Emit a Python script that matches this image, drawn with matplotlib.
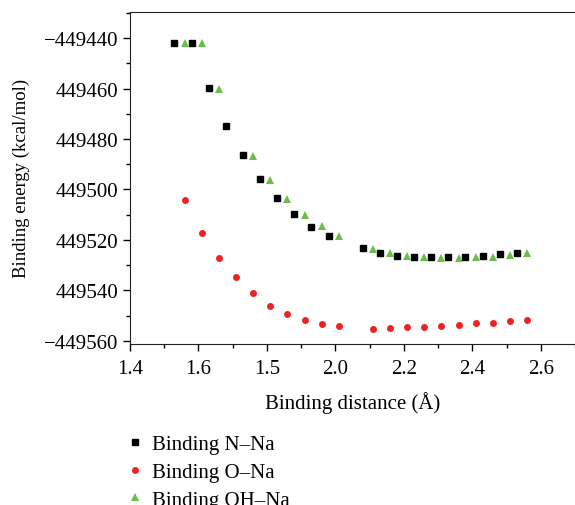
import matplotlib
matplotlib.use('Agg')
import matplotlib.pyplot as plt
from matplotlib.ticker import MultipleLocator

plt.rcParams['font.family'] = ['Liberation Serif', 'DejaVu Serif']

# Binding N-Na (black squares)
x_n = [1.53, 1.58, 1.63, 1.68, 1.73, 1.78, 1.83, 1.88, 1.93, 1.98,
       2.08, 2.13, 2.18, 2.23, 2.28, 2.33, 2.38, 2.43, 2.48, 2.53]
e_n = [-449442.1, -449442.1, -449459.9, -449474.8, -449486.5, -449496.0,
       -449503.5, -449509.8, -449515.0, -449518.5, -449523.3, -449525.3,
       -449526.4, -449526.8, -449526.8, -449526.8, -449526.8, -449526.4,
       -449525.6, -449525.3]

# Binding O-Na (red circles)
x_o = [1.56, 1.61, 1.66, 1.71, 1.76, 1.81, 1.86, 1.91, 1.96, 2.01,
       2.11, 2.16, 2.21, 2.26, 2.31, 2.36, 2.41, 2.46, 2.51, 2.56]
e_o = [-449504.3, -449517.1, -449527.0, -449534.8, -449541.1, -449546.0,
       -449549.3, -449551.6, -449553.1, -449553.9, -449555.1, -449554.7,
       -449554.6, -449554.6, -449554.2, -449553.8, -449552.9, -449552.7,
       -449552.2, -449551.8]

# Binding OH-Na (green triangles)
x_oh = [1.56, 1.61, 1.66, 1.76, 1.81, 1.86, 1.91, 1.96, 2.01,
        2.11, 2.16, 2.21, 2.26, 2.31, 2.36, 2.41, 2.46, 2.51, 2.56]
e_oh = [-449442.1, -449442.1, -449460.3, -449486.6, -449496.4, -449503.9,
        -449510.0, -449514.6, -449518.4, -449523.6, -449525.0, -449526.2,
        -449526.7, -449527.2, -449527.2, -449526.6, -449526.6, -449525.9,
        -449525.3]

x_ticks = [1.4, 1.6, 1.8, 2.0, 2.2, 2.4, 2.6]
x_ticklabels = ['1.4', '1.6', '1.5', '2.0', '2.2', '2.4', '2.6']
y_ticks = [-449440, -449460, -449480, -449500, -449520, -449540, -449560]
y_ticklabels = ['\u2212449440', '449460', '449480', '449500', '449520',
                '449540', '\u2212449560']

fig = plt.figure(figsize=(5.75, 5.06), dpi=100)
ax = fig.add_axes([130 / 575, 1 - 345 / 506, 1 - 130 / 575, (345 - 12.5) / 506])

h1, = ax.plot(x_n, e_n, 's', color='black', markersize=4.5, label='Binding N\u2013Na')
h2, = ax.plot(x_o, e_o, 'o', color='#ee2222', markersize=5, markeredgewidth=0,
              label='Binding O\u2013Na')
h3, = ax.plot(x_oh, e_oh, '^', color='#6abf4b', markersize=5.5, markeredgewidth=0,
              label='Binding OH\u2013Na')

ax.set_xlim(1.4, 2.7)
ax.set_ylim(-449561.2, -449429.5)
ax.set_xticks(x_ticks)
ax.set_xticklabels(x_ticklabels)
ax.set_yticks(y_ticks)
ax.set_yticklabels(y_ticklabels)
ax.xaxis.set_minor_locator(MultipleLocator(0.1))
ax.yaxis.set_minor_locator(MultipleLocator(10))
ax.tick_params(which='major', direction='out', length=5, width=1, labelsize=15)
ax.tick_params(axis='x', which='major', pad=6)
ax.tick_params(which='minor', direction='out', length=3, width=1)
ax.spines['right'].set_visible(False)
for s in ['left', 'bottom', 'top']:
    ax.spines[s].set_color('#222222')

ax.set_xlabel('Binding distance (\u00c5)', fontsize=15, labelpad=9)
ax.set_ylabel('Binding energy (kcal/mol)', fontsize=13.5, labelpad=10)

fig.legend(handles=[h1, h2, h3], loc='upper left',
           bbox_to_anchor=(118 / 575, 1 - 427 / 506), frameon=False,
           fontsize=15, handlelength=0.8, handletextpad=0.45,
           labelspacing=0.4, borderaxespad=0)

fig.savefig('out.png', dpi=100)
